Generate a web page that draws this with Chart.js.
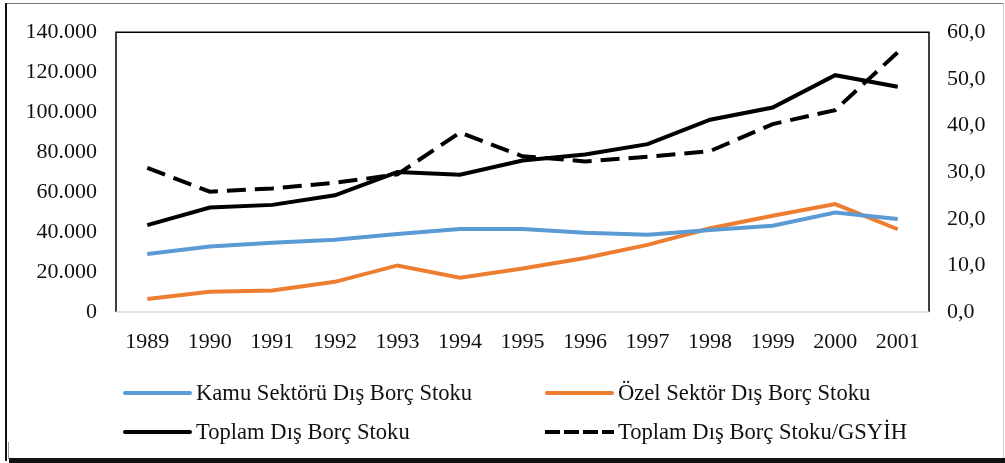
<!DOCTYPE html>
<html>
<head>
<meta charset="utf-8">
<script src="https://cdn.jsdelivr.net/npm/chart.js@4"></script>
<style>
  body { margin: 0; background: #fff; }
  #wrap { position: relative; width: 1005px; height: 463px; }
  #legend { position: absolute; left: 0; top: 0; width: 1005px; height: 463px; pointer-events: none;
    font-family: "Liberation Serif", "Times New Roman", serif; font-size: 22.6px; color: #111; }
  .item { position: absolute; display: flex; align-items: center; height: 30px; white-space: nowrap; }
  .swatch { width: 69px; height: 4px; margin-right: 4px; border-radius: 2px; }
</style>
</head>
<body>
<div id="wrap">
  <canvas id="DebtChart"></canvas>
  <div id="legend"></div>
</div>
<script>
const years = ['1989', '1990', '1991', '1992', '1993', '1994', '1995', '1996', '1997', '1998', '1999', '2000', '2001'];
const kamuStock = [29000, 32800, 34600, 36100, 39000, 41500, 41500, 39600, 38600, 41000, 43200, 49800, 46500];
const ozelStock = [6500, 10100, 10800, 15100, 23300, 17200, 21800, 27000, 33600, 41900, 48200, 54000, 41400];
const totalStock = [43500, 52300, 53600, 58400, 70000, 68700, 75800, 78800, 84000, 96200, 102300, 118500, 112700];
const stockToGdp = [30.9, 25.8, 26.5, 27.7, 29.5, 38.5, 33.4, 32.3, 33.3, 34.5, 40.3, 43.3, 55.7];
const leftTicks = ['0', '20.000', '40.000', '60.000', '80.000', '100.000', '120.000', '140.000'];
const rightTicks = ['0,0', '10,0', '20,0', '30,0', '40,0', '50,0', '60,0'];

// plot box + outer picture frame
const framePlugin = {
  id: 'framePlugin',
  afterDraw(chart) {
    const ctx = chart.ctx;
    const a = chart.chartArea;
    ctx.save();
    ctx.strokeStyle = '#000';
    ctx.lineWidth = 1.5;
    ctx.beginPath();
    ctx.moveTo(a.left, a.bottom);
    ctx.lineTo(a.left, a.top);
    ctx.lineTo(a.right, a.top);
    ctx.lineTo(a.right, a.bottom);
    ctx.stroke();
    ctx.strokeStyle = '#d9d9d9';
    ctx.beginPath();
    ctx.moveTo(a.left, a.bottom);
    ctx.lineTo(a.right, a.bottom);
    ctx.stroke();
    // outer frame
    ctx.fillStyle = '#777';
    ctx.fillRect(5, 3, 998, 1);
    ctx.fillStyle = '#ccc';
    ctx.fillRect(1003, 3, 1, 456);
    ctx.fillStyle = '#111';
    ctx.fillRect(5, 3, 2, 458);
    ctx.fillStyle = '#999';
    ctx.fillRect(8, 442, 1, 17);
    ctx.fillStyle = '#111';
    ctx.fillRect(9, 458, 996, 5);
    ctx.restore();
  }
};

const tickFont = { family: '"Liberation Serif", "Times New Roman", serif', size: 22 };

const ctx = document.getElementById('DebtChart');
const debtChart = new Chart(ctx, {
  type: 'line',
  data: {
    labels: years,
    datasets: [{
      label: 'Kamu Sektörü Dış Borç Stoku',
      data: kamuStock,
      borderColor: '#5B9BD5',
      yAxisID: 'y'
    },
    {
      label: 'Özel Sektör Dış Borç Stoku',
      data: ozelStock,
      borderColor: '#ED7D31',
      yAxisID: 'y'
    },
    {
      label: 'Toplam Dış Borç Stoku',
      data: totalStock,
      borderColor: '#000',
      yAxisID: 'y'
    },
    {
      label: 'Toplam Dış Borç Stoku/GSYİH',
      data: stockToGdp,
      borderColor: '#000',
      borderDash: [19, 9],
      yAxisID: 'y1'
    }]
  },
  options: {
    responsive: true,
    maintainAspectRatio: false,
    animation: false,
    layout: { padding: { top: 30, bottom: 106, left: 0, right: 0 } },
    elements: {
      point: { radius: 0 },
      line: { borderWidth: 4, tension: 0, fill: false }
    },
    plugins: { legend: { display: false }, tooltip: { enabled: false } },
    scales: {
      x: {
        offset: true,
        grid: { display: false, drawTicks: false },
        border: { display: false },
        ticks: { font: tickFont, color: '#111', padding: 17, maxRotation: 0, autoSkip: false },
        afterFit(axis) { axis.height = 45; }
      },
      y: {
        position: 'left',
        min: 0, max: 140000,
        grid: { display: false, drawTicks: false },
        border: { display: false },
        ticks: { stepSize: 20000, font: tickFont, color: '#111', padding: 19,
          callback: (v, i) => leftTicks[i] },
        afterFit(axis) { axis.width = 116; }
      },
      y1: {
        position: 'right',
        min: 0, max: 60,
        grid: { display: false, drawTicks: false },
        border: { display: false },
        ticks: { stepSize: 10, font: tickFont, color: '#111', padding: 18,
          callback: (v, i) => rightTicks[i] },
        afterFit(axis) { axis.width = 76; }
      }
    }
  },
  plugins: [framePlugin]
});

// html legend in two columns, built from the datasets
const legendBox = document.getElementById('legend');
const spots = [[123, 393], [545, 393], [123, 432], [545, 432]];
debtChart.data.datasets.forEach((ds, i) => {
  const item = document.createElement('div');
  item.className = 'item';
  item.style.left = spots[i][0] + 'px';
  item.style.top = (spots[i][1] - 15) + 'px';
  const sw = document.createElement('span');
  sw.className = 'swatch';
  if (ds.borderDash) {
    sw.style.borderRadius = '0';
    sw.style.background = 'repeating-linear-gradient(90deg, ' + ds.borderColor + ' 0 15px, transparent 15px 19px)';
  } else {
    sw.style.background = ds.borderColor;
  }
  const txt = document.createElement('span');
  txt.textContent = ds.label;
  item.appendChild(sw);
  item.appendChild(txt);
  legendBox.appendChild(item);
});
</script>
</body>
</html>
